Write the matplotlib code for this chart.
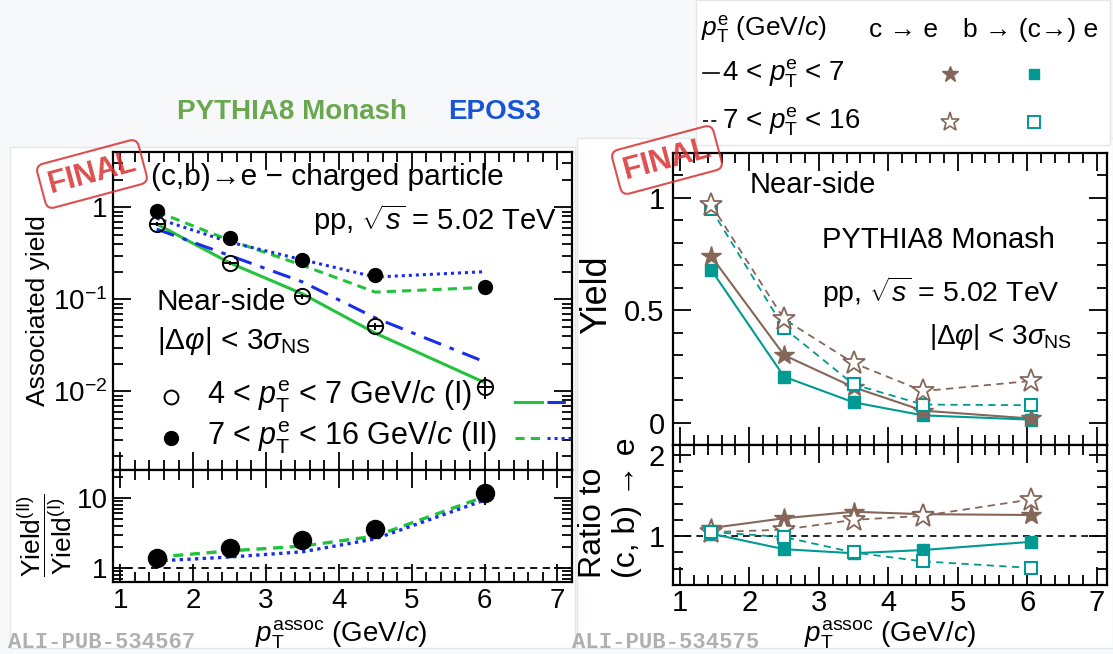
import numpy as np
import matplotlib
matplotlib.use('Agg')
import matplotlib.pyplot as plt
from matplotlib.patches import Rectangle
from matplotlib.lines import Line2D
from matplotlib.ticker import FixedLocator, MultipleLocator, LogLocator, NullFormatter, FixedFormatter

plt.rcParams['font.family'] = ['Liberation Sans', 'DejaVu Sans']
plt.rcParams['mathtext.fontset'] = 'custom'
plt.rcParams['mathtext.rm'] = 'Liberation Sans'
plt.rcParams['mathtext.it'] = 'Liberation Sans:italic'
plt.rcParams['mathtext.bf'] = 'Liberation Sans:bold'
plt.rcParams['mathtext.sf'] = 'Liberation Sans'

# ---- left figure: (c,b)->e - charged particle near-side yields
pt_assoc = [1.5, 2.5, 3.5, 4.5, 6.0]
yield_I = [0.66, 0.25, 0.108, 0.051, 0.0112]
yield_I_err = [0.03, 0.012, 0.006, 0.004, 0.003]
yield_II = [0.92, 0.47, 0.27, 0.185, 0.137]
yield_II_err = [0.05, 0.03, 0.02, 0.015, 0.012]
pythia_I = [0.66, 0.25, 0.115, 0.043, 0.0125]
epos_I = [0.58, 0.30, 0.155, 0.063, 0.021]
pythia_II = [0.90, 0.44, 0.235, 0.12, 0.135]
epos_II = [0.76, 0.42, 0.27, 0.175, 0.20]
ratio_data = [1.39, 1.95, 2.5, 3.6, 11.8]
ratio_err = [0.1, 0.15, 0.2, 0.35, 4.0]
ratio_pythia = [1.43, 1.75, 2.05, 2.85, 10.4]
ratio_epos = [1.26, 1.43, 1.7, 2.6, 9.3]

# ---- right figure: PYTHIA8 c->e and b->e yields
pt_assoc_r = [1.45, 2.5, 3.5, 4.5, 6.05]
c_low = [0.74, 0.30, 0.157, 0.053, 0.018]
b_low = [0.68, 0.204, 0.09, 0.032, 0.013]
c_high = [0.97, 0.46, 0.265, 0.14, 0.185]
b_high = [0.95, 0.42, 0.17, 0.08, 0.077]
c_low_ratio = [1.1, 1.22, 1.3, 1.27, 1.26]
b_low_ratio = [1.03, 0.84, 0.79, 0.83, 0.93]
c_high_ratio = [1.05, 1.08, 1.2, 1.25, 1.45]
b_high_ratio = [1.05, 0.99, 0.8, 0.69, 0.61]
ratio_r_err = [0.03, 0.03, 0.04, 0.05, 0.07]

W, H = 1113, 654
GREEN = '#22c33b'
BLUE = '#1a2ee8'
BROWN = '#85675a'
TEAL = '#009a92'


def fx(x):
    return x / W


def fy(y):
    return 1 - y / H


def root_style(ax, size=20):
    ax.tick_params(which='both', direction='in', top=True, right=True,
                   labelsize=size, width=1.3, pad=6)
    ax.tick_params(which='major', length=13)
    ax.tick_params(which='minor', length=7)
    for s in ax.spines.values():
        s.set_linewidth(1.6)


fig = plt.figure(figsize=(W / 100, H / 100), dpi=100)
fig.patch.set_facecolor('#f7f8fa')

# white panels behind the two plots and the legend box
for (x0, y0, x1, y1) in [(10, 147, 575, 648), (577, 138, 1113, 648), (696, 0, 1110, 145)]:
    fig.add_artist(Rectangle((fx(x0), fy(y1)), fx(x1 - x0), (y1 - y0) / H,
                             transform=fig.transFigure, facecolor='white',
                             edgecolor='#e4e6ea', lw=1, zorder=-5))

ax1 = fig.add_axes([fx(113), fy(470), fx(459), 318 / H])
ax2 = fig.add_axes([fx(113), fy(582), fx(459), 112 / H])
ax3 = fig.add_axes([fx(673), fy(445), fx(434), 292 / H])
ax4 = fig.add_axes([fx(673), fy(585), fx(434), 140 / H])

# ---------------- left top
ax1.plot(pt_assoc, pythia_I, color=GREEN, lw=2.2, ls='-')
ax1.plot(pt_assoc, epos_I, color=BLUE, lw=2.2, ls=(0, (6, 3, 1.5, 3)))
ax1.plot(pt_assoc, pythia_II, color=GREEN, lw=2.2, ls=(0, (3, 2)))
ax1.plot(pt_assoc, epos_II, color=BLUE, lw=2.2, ls=(0, (1, 1.3)))
ax1.errorbar(pt_assoc, yield_II, yerr=yield_II_err, xerr=0.08, fmt='o', ms=10,
             color='black', mfc='black', elinewidth=1.4, capsize=0)
ax1.errorbar(pt_assoc, yield_I, yerr=yield_I_err, xerr=0.1, fmt='o', ms=11,
             color='black', mfc='none', mew=1.4, elinewidth=1.4, capsize=0)
ax1.set_yscale('log')
ax1.set_xlim(0.9, 7.2)
ax1.set_ylim(0.0014, 4)
ax1.xaxis.set_major_locator(MultipleLocator(1))
ax1.xaxis.set_minor_locator(MultipleLocator(0.2))
ax1.yaxis.set_major_locator(FixedLocator([0.01, 0.1, 1]))
ax1.yaxis.set_major_formatter(FixedFormatter([r'$10^{-2}$', r'$10^{-1}$', '1']))
ax1.yaxis.set_minor_locator(LogLocator(base=10, subs=np.arange(2, 10)))
ax1.yaxis.set_minor_formatter(NullFormatter())
ax1.tick_params(labelbottom=False)
root_style(ax1)
ax1.tick_params(axis='y', pad=4)

ax1.text(0.083, 0.921, '(c,b)→e − charged particle', transform=ax1.transAxes,
         fontsize=21.5, va='center', ha='left')
ax1.text(0.967, 0.786, r'pp, $\sqrt{s}$ = 5.02 TeV', transform=ax1.transAxes,
         fontsize=21, va='center', ha='right')
ax1.text(0.095, 0.528, 'Near-side', transform=ax1.transAxes, fontsize=21.5, va='center')
ax1.text(0.095, 0.405, r'$|\Delta\varphi|$ < 3$\sigma_{\mathrm{NS}}$', transform=ax1.transAxes,
         fontsize=21.5, va='center')
# legend rows
ax1.plot([0.126], [0.23], 'o', ms=10, mfc='none', mec='black', mew=1.4, transform=ax1.transAxes)
ax1.plot([0.126], [0.10], 'o', ms=10, color='black', transform=ax1.transAxes)
ax1.text(0.205, 0.23, r'4 < $p_{\mathrm{T}}^{\mathrm{e}}$ < 7 GeV/$c$ (I)', transform=ax1.transAxes,
         fontsize=22, va='center')
ax1.text(0.205, 0.10, r'7 < $p_{\mathrm{T}}^{\mathrm{e}}$ < 16 GeV/$c$ (II)', transform=ax1.transAxes,
         fontsize=22, va='center')
ax1.add_line(Line2D([0.875, 0.935], [0.215, 0.215], color=GREEN, lw=2.2, transform=ax1.transAxes))
ax1.add_line(Line2D([0.945, 1.0], [0.215, 0.215], color=BLUE, lw=2.2, ls=(0, (6, 3, 1.5, 3)),
                    transform=ax1.transAxes, clip_on=False))
ax1.add_line(Line2D([0.875, 0.935], [0.10, 0.10], color=GREEN, lw=2.2, ls=(0, (3, 2)),
                    transform=ax1.transAxes))
ax1.add_line(Line2D([0.945, 1.0], [0.10, 0.10], color=BLUE, lw=2.2, ls=(0, (1, 1.3)),
                    transform=ax1.transAxes))

# ---------------- left bottom ratio
ax2.axhline(1, color='black', lw=1.3, ls=(0, (4, 3)))
ax2.plot(pt_assoc, ratio_pythia, color=GREEN, lw=2.4, ls=(0, (3, 2)))
ax2.plot(pt_assoc, ratio_epos, color=BLUE, lw=2.4, ls=(0, (1, 1.3)))
ax2.errorbar(pt_assoc, ratio_data, yerr=ratio_err, fmt='o', ms=13, color='black',
             elinewidth=1.4, capsize=0)
ax2.set_yscale('log')
ax2.set_xlim(0.9, 7.2)
ax2.set_ylim(0.63, 25)
ax2.xaxis.set_major_locator(MultipleLocator(1))
ax2.xaxis.set_minor_locator(MultipleLocator(0.2))
ax2.yaxis.set_major_locator(FixedLocator([1, 10]))
ax2.yaxis.set_major_formatter(FixedFormatter(['1', '10']))
ax2.yaxis.set_minor_locator(LogLocator(base=10, subs=np.arange(2, 10)))
ax2.yaxis.set_minor_formatter(NullFormatter())
root_style(ax2)
ax2.tick_params(axis='x', pad=4)
ax2.tick_params(axis='y', pad=4)

# ---------------- right top
ax3.plot(pt_assoc_r, c_high, color=BROWN, lw=1.3, ls=(0, (4, 3)))
ax3.plot(pt_assoc_r, b_high, color=TEAL, lw=1.3, ls=(0, (4, 3)))
ax3.plot(pt_assoc_r, c_low, color=BROWN, lw=1.5)
ax3.plot(pt_assoc_r, b_low, color=TEAL, lw=1.5)
ax3.plot(pt_assoc_r, b_low, 's', color=TEAL, ms=9)
ax3.plot(pt_assoc_r, c_low, '*', color=BROWN, ms=15)
ax3.plot(pt_assoc_r, b_high, 's', mfc='white', mec=TEAL, mew=1.5, ms=9)
ax3.plot(pt_assoc_r, c_high, '*', mfc='white', mec=BROWN, mew=1.3, ms=17)
ax3.set_xlim(0.9, 7.15)
ax3.set_ylim(-0.1, 1.2)
ax3.xaxis.set_major_locator(MultipleLocator(1))
ax3.xaxis.set_minor_locator(MultipleLocator(0.2))
ax3.yaxis.set_major_locator(FixedLocator([0, 0.5, 1]))
ax3.yaxis.set_major_formatter(FixedFormatter(['0', '0.5', '1']))
ax3.yaxis.set_minor_locator(MultipleLocator(0.1))
ax3.tick_params(labelbottom=False)
root_style(ax3, 21)
ax3.text(0.177, 0.89, 'Near-side', transform=ax3.transAxes, fontsize=21, va='center')
ax3.text(0.343, 0.702, 'PYTHIA8 Monash', transform=ax3.transAxes, fontsize=21, va='center')
ax3.text(0.343, 0.524, r'pp, $\sqrt{s}$ = 5.02 TeV', transform=ax3.transAxes, fontsize=20.5,
         va='center')
ax3.text(0.59, 0.37, r'$|\Delta\varphi|$ < 3$\sigma_{\mathrm{NS}}$', transform=ax3.transAxes,
         fontsize=20, va='center')

# ---------------- right bottom ratio
ax4.axhline(1, color='black', lw=1.2, ls=(0, (4, 3)))
ax4.plot(pt_assoc_r, c_high_ratio, color=BROWN, lw=1.3, ls=(0, (4, 3)))
ax4.plot(pt_assoc_r, b_high_ratio, color=TEAL, lw=1.3, ls=(0, (4, 3)))
ax4.plot(pt_assoc_r, c_low_ratio, color=BROWN, lw=1.5)
ax4.plot(pt_assoc_r, b_low_ratio, color=TEAL, lw=1.5)
ax4.errorbar(pt_assoc_r, c_low_ratio, yerr=ratio_r_err, fmt='*', color=BROWN, ms=15,
             elinewidth=1.2, capsize=0)
ax4.errorbar(pt_assoc_r, b_low_ratio, yerr=ratio_r_err, fmt='s', color=TEAL, ms=9,
             elinewidth=1.2, capsize=0)
ax4.errorbar(pt_assoc_r, c_high_ratio, yerr=ratio_r_err, fmt='*', mfc='white', mec=BROWN,
             ecolor=BROWN, mew=1.3, ms=17, elinewidth=1.2, capsize=0)
ax4.errorbar(pt_assoc_r, b_high_ratio, yerr=ratio_r_err, fmt='s', mfc='white', mec=TEAL,
             ecolor=TEAL, mew=1.5, ms=9, elinewidth=1.2, capsize=0)
ax4.set_xlim(0.9, 7.15)
ax4.set_ylim(0.4, 2.12)
ax4.xaxis.set_major_locator(MultipleLocator(1))
ax4.xaxis.set_minor_locator(MultipleLocator(0.2))
ax4.yaxis.set_major_locator(FixedLocator([1, 2]))
ax4.yaxis.set_major_formatter(FixedFormatter(['1', '2']))
ax4.yaxis.set_minor_locator(MultipleLocator(0.2))
root_style(ax4, 21)
ax4.tick_params(axis='x', pad=3)

# ---------------- axis titles
fig.text(fx(38), fy(311), 'Associated yield', rotation=90, fontsize=19, ha='center', va='center')
fig.text(fx(45), fy(535), r'$\dfrac{\mathrm{Yield}^{(\mathrm{II})}}{\mathrm{Yield}^{(\mathrm{I})}}$',
         rotation=90, fontsize=19, ha='center', va='center')
fig.text(fx(341), fy(635), r'$p_{\mathrm{T}}^{\mathrm{assoc}}$ (GeV/$c$)', fontsize=20,
         ha='center', va='center')
fig.text(fx(597), fy(295), 'Yield', rotation=90, fontsize=26, ha='center', va='center')
fig.text(fx(593), fy(578), 'Ratio to', rotation=90, fontsize=23, ha='center', va='bottom')
fig.text(fx(627), fy(578), '(c, b) → e', rotation=90, fontsize=23, ha='center', va='bottom')
fig.text(fx(890), fy(635), r'$p_{\mathrm{T}}^{\mathrm{assoc}}$ (GeV/$c$)', fontsize=20,
         ha='center', va='center')

# model labels above left panel
fig.text(fx(292), fy(112), 'PYTHIA8 Monash', color='#6aa84f', fontsize=20, fontweight='bold',
         ha='center', va='center')
fig.text(fx(495), fy(112), 'EPOS3', color='#1655d6', fontsize=20, fontweight='bold',
         ha='center', va='center')

# ---------------- legend box on the top right
fig.text(fx(701), fy(30), r'$p_{\mathrm{T}}^{\mathrm{e}}$ (GeV/$c$)', fontsize=19, va='center')
fig.text(fx(869), fy(30), 'c → e', fontsize=19, va='center')
fig.text(fx(963), fy(30), 'b → (c→) e', fontsize=19, va='center')
fig.text(fx(722), fy(74), r'4 < $p_{\mathrm{T}}^{\mathrm{e}}$ < 7', fontsize=20, va='center')
fig.text(fx(722), fy(122), r'7 < $p_{\mathrm{T}}^{\mathrm{e}}$ < 16', fontsize=20, va='center')
fig.add_artist(Line2D([fx(703), fx(719)], [fy(73), fy(73)], color='black', lw=1.2))
fig.add_artist(Line2D([fx(703), fx(719)], [fy(121), fy(121)], color='black', lw=1.2,
                      ls=(0, (3, 2))))
fig.add_artist(Line2D([fx(950)], [fy(74)], marker='*', ms=12, color=BROWN, ls='none'))
fig.add_artist(Line2D([fx(1034)], [fy(74)], marker='s', ms=7, color=TEAL, ls='none'))
fig.add_artist(Line2D([fx(950)], [fy(122)], marker='*', ms=14, mfc='white', mec=BROWN,
                      mew=1.2, ls='none'))
fig.add_artist(Line2D([fx(1034)], [fy(122)], marker='s', ms=8, mfc='white', mec=TEAL,
                      mew=1.4, ls='none'))

# ---------------- FINAL stamps and figure ids
for (sx, sy) in [(92, 174), (667, 160)]:
    fig.text(fx(sx), fy(sy), 'FINAL', color='#d83030', fontsize=22, fontweight='bold',
             rotation=15, ha='center', va='center', alpha=0.85,
             bbox=dict(boxstyle='round,pad=0.25', fc='none', ec='#d83030', lw=1.5, alpha=0.85))

fig.text(fx(8), fy(643), 'ALI-PUB-534567', family='Liberation Mono', fontweight='bold',
         color='#b0b0b0', fontsize=16, va='center')
fig.text(fx(572), fy(643), 'ALI-PUB-534575', family='Liberation Mono', fontweight='bold',
         color='#b0b0b0', fontsize=16, va='center')

fig.savefig('out.png', dpi=100, facecolor=fig.get_facecolor())
